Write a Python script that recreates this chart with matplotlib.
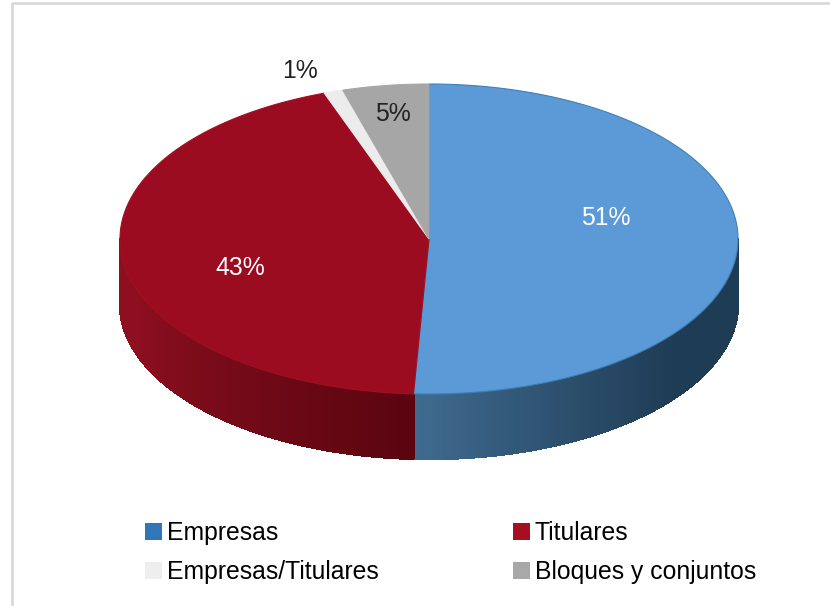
"""
Pie 3D: Empresas / Titulares / Bloques
"""
import numpy as np
import matplotlib
matplotlib.use("Agg")
import matplotlib.pyplot as plt
from matplotlib.colors import to_rgb
from matplotlib.patches import Patch

plt.rcParams['font.family'] = ['Liberation Sans', 'DejaVu Sans']

# datos
categories = ["Empresas", "Titulares", "Empresas/Titulares", "Bloques y conjuntos"]
shares = [50.8, 43.7, 1.0, 4.5]
labels = ["51%", "43%", "1%", "5%"]

# colores
top_colors = ["#5b9ad6", "#9b0c20", "#ececec", "#a6a6a6"]
edge_colors = ["#3f7fb8", "#a3101f", "#ececec", "#a6a6a6"]
legend_colors = ["#2f77b8", "#a50f21", "#eeeeee", "#a8a8a8"]
label_colors = ["white", "white", "#222222", "#222222"]
# degradado de la pared: (inicio, fin) en sentido horario
wall_colors = [("#1f3c55", "#3f6a8f"), ("#5a0510", "#8e0f20")]

# geometria en pixeles
cx, cy = 429, 239
rx, ry = 309, 155
depth = 65


def ellipse(t):
    return cx + rx * np.sin(t), cy - ry * np.cos(t)


fig = plt.figure(figsize=(8.3, 6.06), dpi=100)
ax = fig.add_axes([0, 0, 1, 1])
ax.set_xlim(0, 830)
ax.set_ylim(606, 0)
ax.axis("off")

# marco gris del grafico
ax.plot([12, 12, 830], [606, 3, 3], color="#d6d6d6", lw=1.8, zorder=1)

edges = np.radians(np.cumsum([0] + shares) * 3.6)

# pared lateral, solo la mitad de abajo se ve
for i, (c0, c1) in enumerate(wall_colors):
    a0 = max(edges[i], np.pi / 2)
    a1 = min(edges[i + 1], 3 * np.pi / 2)
    steps = np.linspace(a0, a1, 90)
    for j in range(len(steps) - 1):
        f = j / (len(steps) - 2)
        if i == 0:
            # el azul queda plano hacia la derecha y se aclara al final
            f = max(0, (f - 0.4) / 0.6) ** 1.2
        else:
            f = min(1, f / 0.8)
        col = (1 - f) * np.array(to_rgb(c0)) + f * np.array(to_rgb(c1))
        ts = np.linspace(steps[j], steps[j + 1], 3)
        x, y = ellipse(ts)
        ax.fill(np.r_[x, x[::-1]], np.r_[y, y[::-1] + depth], facecolor=col, edgecolor=col,
                lw=1.0, antialiased=False, zorder=2)

# cara de arriba
for i in range(len(shares)):
    ts = np.linspace(edges[i], edges[i + 1], 200)
    x, y = ellipse(ts)
    ax.fill(np.r_[cx, x], np.r_[cy, y], facecolor=top_colors[i], edgecolor=edge_colors[i], lw=0.8, zorder=3)

# etiquetas
for lab, col, (tx, ty) in zip(labels, label_colors, [(606, 218), (240, 268), (300, 71), (393, 114)]):
    ax.text(tx, ty, lab, color=col, fontsize=17.8, ha="center", va="center", zorder=4)

# leyenda
handles = [Patch(facecolor=c, edgecolor="none") for c in legend_colors]
order = [0, 2, 1, 3]
ax.legend([handles[k] for k in order], [categories[k] for k in order],
          ncol=2, frameon=False, fontsize=17.8, handlelength=0.68, handleheight=0.68,
          handletextpad=0.2, columnspacing=5.45, labelspacing=0.62, borderpad=0, borderaxespad=0,
          loc="upper left", bbox_to_anchor=(145 / 830, 1 - 521 / 606))

fig.savefig("out.png", dpi=100)
